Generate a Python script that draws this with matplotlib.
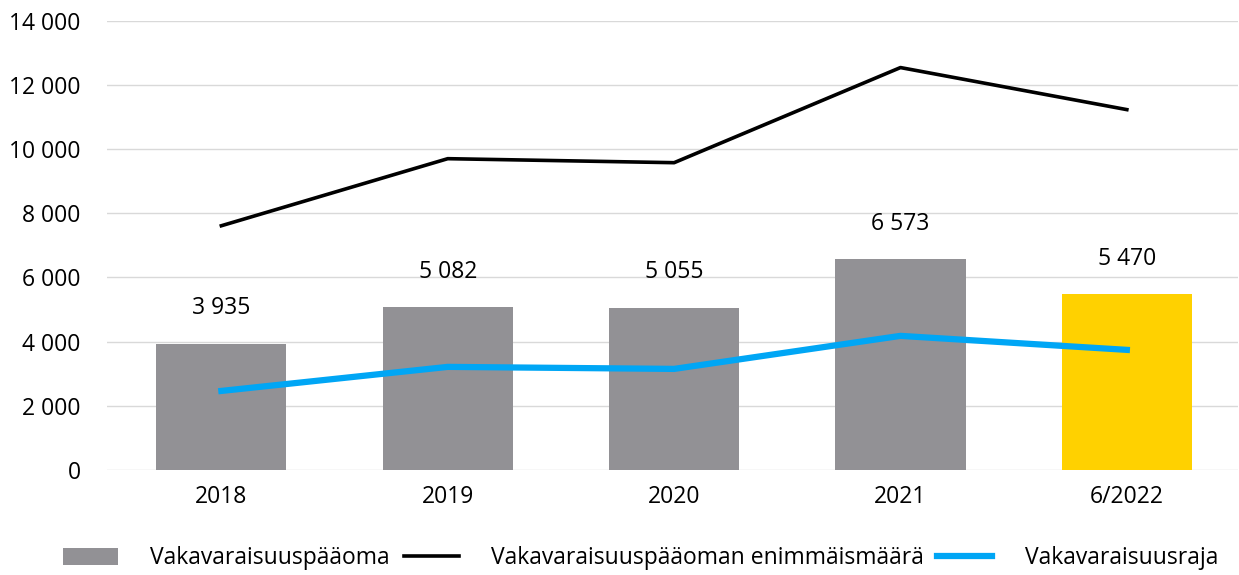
import matplotlib
matplotlib.use("Agg")
import matplotlib.pyplot as plt
from matplotlib.ticker import FuncFormatter

categories = ["2018", "2019", "2020", "2021", "6/2022"]
capital = [3935, 5082, 5055, 6573, 5470]
max_amount = [7608, 9697, 9572, 12535, 11225]
requirement = [2463, 3212, 3149, 4178, 3742]
bar_colors = ["#929195", "#929195", "#929195", "#929195", "#FFD100"]

plt.rcParams['font.family'] = ['Open Sans', 'DejaVu Sans']
fig = plt.figure(figsize=(12.39, 5.75), dpi=100)
ax = fig.add_axes([0.0864, 0.1826, 0.9126, 0.7817])

x = list(range(len(categories)))
b = ax.bar(x, capital, width=0.575, color=bar_colors, zorder=2, label="Vakavaraisuuspääoma")
l1, = ax.plot(x, max_amount, color="black", lw=2.6, zorder=3, label="Vakavaraisuuspääoman enimmäismäärä")
l2, = ax.plot(x, requirement, color="#00A6F5", lw=4.5, zorder=3, label="Vakavaraisuusraja")

for xi, v in zip(x, capital):
    ax.text(xi, v + 1100, f"{v:,}".replace(",", " "), ha="center", va="center", fontsize=16.5)

ax.set_ylim(0, 14000)
ax.set_xlim(-0.505, 4.49)
ax.set_yticks(range(0, 14001, 2000))
ax.yaxis.set_major_formatter(FuncFormatter(lambda v, p: f"{int(v):,}".replace(",", " ")))
ax.set_xticks(x)
ax.set_xticklabels(categories)
ax.tick_params(axis='both', length=0, labelsize=16.5)
ax.tick_params(axis='x', pad=11)
ax.tick_params(axis='y', pad=19)
ax.grid(axis='y', color="#D9D9D9", lw=1, zorder=0)
for s in ax.spines.values():
    s.set_visible(False)

fig.legend([b, l1, l2], [b.get_label(), l1.get_label(), l2.get_label()], loc="center",
           bbox_to_anchor=(0.517, 0.029), ncol=3, frameon=False,
           fontsize=16.5, handlelength=2.4, handleheight=0.8, columnspacing=0.6, handletextpad=1.4)

fig.savefig("out.png", dpi=100)
